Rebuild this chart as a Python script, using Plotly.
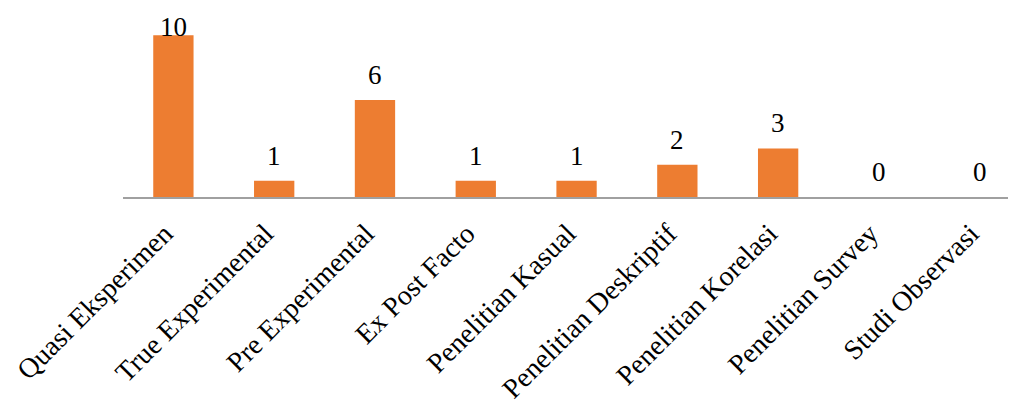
import plotly.graph_objects as go

categories = ["Quasi Eksperimen", "True Experimental", "Pre Experimental", "Ex Post Facto",
              "Penelitian Kasual", "Penelitian Deskriptif", "Penelitian Korelasi",
              "Penelitian Survey", "Studi Observasi"]
values = [10, 1, 6, 1, 1, 2, 3, 0, 0]

FONT = "Liberation Serif, Times New Roman, serif"

fig = go.Figure()
fig.add_trace(go.Bar(
    x=categories, y=values,
    marker=dict(color="#ED7D31", line=dict(width=0)),
    hoverinfo="skip",
))

vmax = max(values)
for c, v in zip(categories, values):
    fig.add_annotation(
        x=c, y=v, text=str(v), showarrow=False,
        xanchor="center", yanchor="bottom",
        yshift=(-9 if v == vmax else 8),
        font=dict(family=FONT, size=27, color="black"),
    )

fig.update_layout(
    width=1008, height=393,
    margin=dict(l=115, r=0, t=11, b=204, autoexpand=False),
    paper_bgcolor="white", plot_bgcolor="white",
    bargap=0.6, showlegend=False,
    font=dict(family=FONT, color="black"),
)
fig.update_xaxes(
    type="category", range=[-0.5, 8.36], automargin=False,
    showline=True, linecolor="#A0A0A0", linewidth=2,
    showgrid=False, ticks="", tickangle=-45,
    ticklabelstandoff=7, ticklabelshift=-9,
    tickfont=dict(family=FONT, size=28, color="black"),
    fixedrange=True,
)
fig.update_yaxes(
    range=[0, 11], visible=False, showgrid=False, zeroline=False, fixedrange=True,
    automargin=False,
)

fig.write_html("out.html")
